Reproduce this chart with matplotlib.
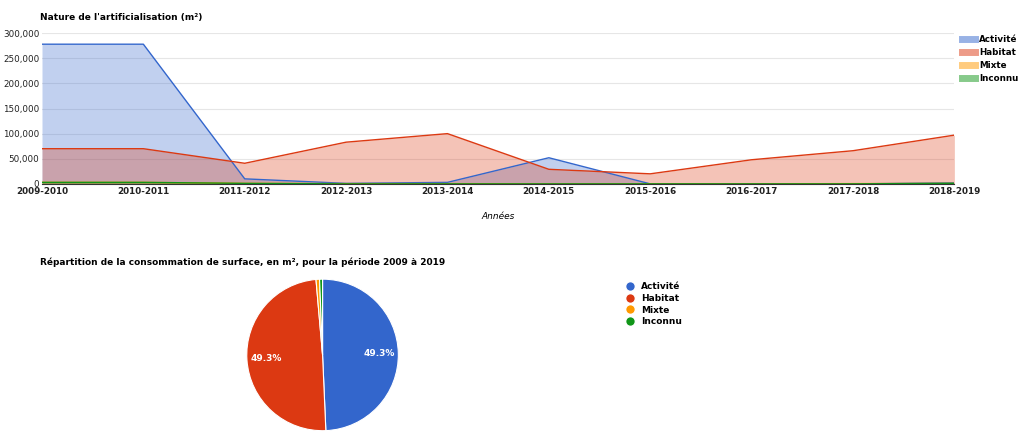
import matplotlib
matplotlib.use("Agg")
import matplotlib.pyplot as plt
from matplotlib.lines import Line2D

years = ["2009-2010","2010-2011","2011-2012","2012-2013","2013-2014","2014-2015","2015-2016","2016-2017","2017-2018","2018-2019"]
series_names = ["Activité","Habitat","Mixte","Inconnu"]
activite = [278000,278000,10000,1000,3000,52000,0,0,0,2000]
habitat = [70000,70000,41000,83000,100000,29000,20000,48000,66000,97000]
mixte = [3000,3000,1000,500,500,0,0,0,500,1000]
inconnu = [3000,3000,1000,0,0,0,0,0,0,1000]
colors = ["#3366cc","#dc3912","#ff9900","#109618"]
series = [activite, habitat, mixte, inconnu]

fig = plt.figure(figsize=(10.24,4.42), dpi=100)
ax = fig.add_axes([0.041,0.584,0.891,0.341])
x = list(range(len(years)))
for s,c,n in zip(series,colors,series_names):
    ax.fill_between(x,s,color=c,alpha=0.3,lw=0)
    ax.plot(x,s,color=c,lw=1,label=n)
ax.set_xlim(0,len(years)-1)
ax.set_ylim(0,300000)
ax.set_yticks(range(0,300001,50000))
ax.set_yticklabels([f"{v:,}" for v in range(0,300001,50000)],fontsize=6.3)
ax.set_xticks(x); ax.set_xticklabels(years,fontsize=6.3,fontweight="bold")
ax.yaxis.grid(True,color="#e6e6e6",lw=0.8)
for sp in ["top","right","left"]: ax.spines[sp].set_visible(False)
ax.spines["bottom"].set_color("#333333")
ax.tick_params(length=0,pad=2,colors="#222222")
ax.set_axisbelow(True)
ax.set_xlabel("Années",fontsize=6.5,style="italic",labelpad=12)
fig.text(0.039,0.955,"Nature de l'artificialisation (m²)",fontsize=6.5,fontweight="bold")
handles=[Line2D([0],[0],color=c,lw=5,alpha=0.5) for c in colors]
leg=ax.legend(handles,series_names,loc="upper left",bbox_to_anchor=(1.0,1.04),frameon=False,fontsize=6.3,handlelength=1.5,handletextpad=0.4,labelspacing=0.45)
for t in leg.get_texts(): t.set_fontweight("bold")

totals=[sum(s) for s in series]
pax=fig.add_axes([0.241,0.025,0.148,0.344])
wedges,texts,autot=pax.pie(totals,colors=colors,startangle=90,counterclock=False,radius=1,
    autopct=lambda p: f"{p:.1f}%" if p>5 else "",pctdistance=0.75,
    wedgeprops=dict(edgecolor="white",linewidth=0.8),textprops=dict(color="white",fontsize=6.5,fontweight="bold"))
pax.set_xlim(-1,1); pax.set_ylim(-1,1)
pax.set_aspect("equal")
fig.text(0.039,0.40,"Répartition de la consommation de surface, en m², pour la période 2009 à 2019",fontsize=6.5,fontweight="bold")
ph=[Line2D([0],[0],marker="o",color="w",markerfacecolor=c,markersize=7) for c in colors]
pl=fig.legend(ph,series_names,loc="upper left",bbox_to_anchor=(0.598,0.38),frameon=False,fontsize=6.5,handletextpad=0.3,labelspacing=0.3)
for t in pl.get_texts(): t.set_fontweight("bold")
fig.savefig("out.png",dpi=100)
